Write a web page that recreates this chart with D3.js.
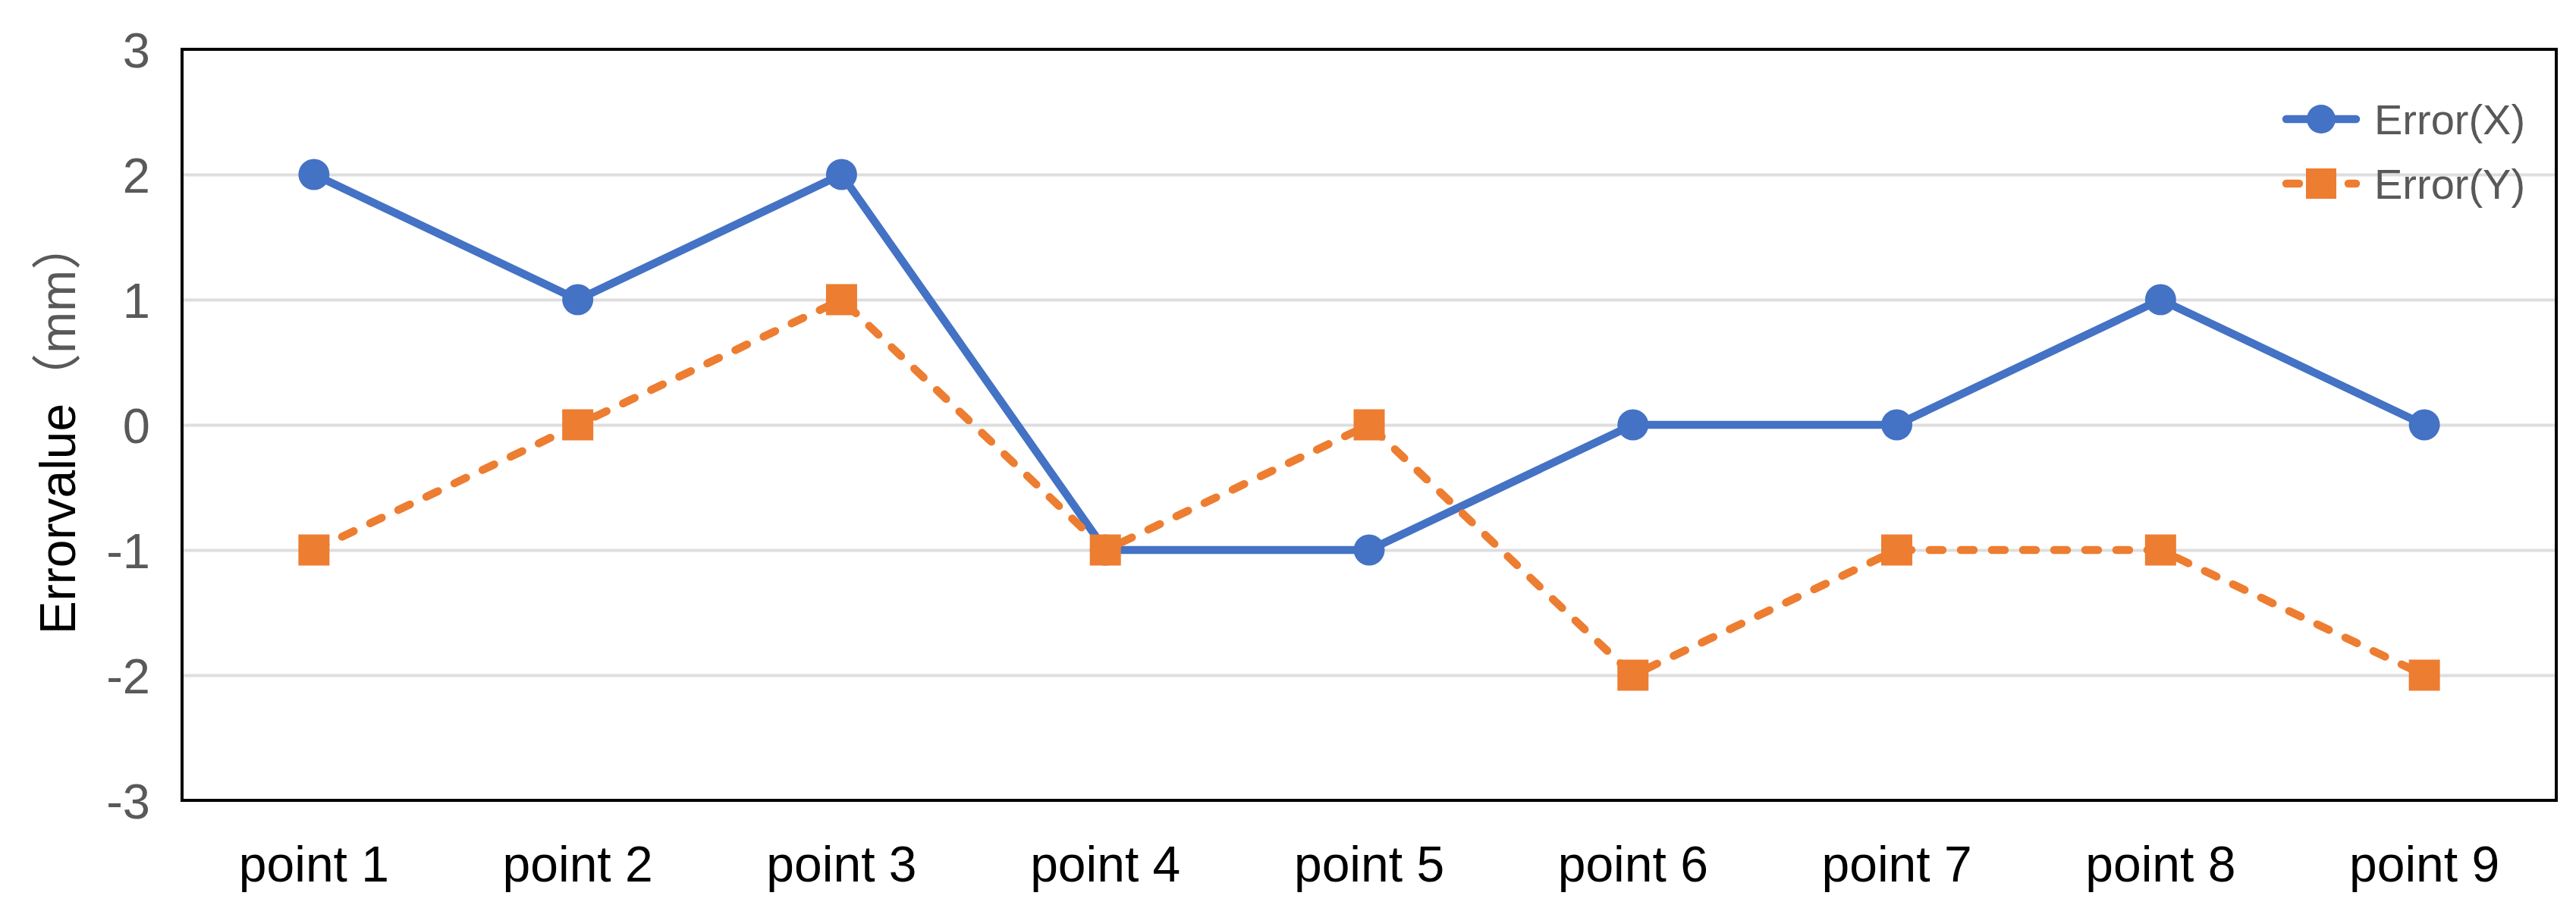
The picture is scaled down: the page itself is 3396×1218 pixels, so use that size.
<!DOCTYPE html>
<html>
<head>
<meta charset="utf-8">
<script src="https://cdn.jsdelivr.net/npm/d3@7"></script>
<style>
  html, body { margin: 0; padding: 0; background: #fff; }
  svg { display: block; }
</style>
</head>
<body>
<div id="chart"></div>
<script>
// Data
const categories = ['point 1', 'point 2', 'point 3', 'point 4', 'point 5', 'point 6', 'point 7', 'point 8', 'point 9'];
const errorX = [2, 1, 2, -1, -1, 0, 0, 1, 0];
const errorY = [-1, 0, 1, -1, 0, -2, -1, -1, -2];
const yTicks = [-3, -2, -1, 0, 1, 2, 3];
const seriesNames = ['Error(X)', 'Error(Y)'];

// Config
const W = 3396, H = 1218;
const plot = { left: 240, right: 3370, top: 65, bottom: 1055 };
const blue = '#4472C4';
const orange = '#ED7D31';
const grey = '#595959';
const font = 'Arial, "Liberation Sans", "Noto Sans CJK SC", sans-serif';
const lineW = 10.5;
const dash = '17 24';

const svg = d3.select('#chart')
    .append('svg')
    .attr('width', W)
    .attr('height', H)
    .attr('viewBox', `0 0 ${W} ${H}`);

svg.append('rect').attr('width', W).attr('height', H).attr('fill', '#fff');

const x = d3.scaleBand()
    .domain(categories)
    .range([plot.left, plot.right]);
const cx = d => x(d) + x.bandwidth() / 2;

const y = d3.scaleLinear()
    .domain([-3, 3])
    .range([plot.bottom, plot.top]);

// Gridlines
svg.append('g')
    .attr('transform', `translate(${plot.left},0)`)
    .call(d3.axisLeft(y).tickValues(yTicks.slice(1, -1)).tickSize(-(plot.right - plot.left)).tickFormat(''))
    .call(g => g.select('.domain').remove())
    .selectAll('line')
    .attr('stroke', '#dedede')
    .attr('stroke-width', 4);

// Y axis labels
svg.append('g')
    .attr('transform', `translate(${plot.left},0)`)
    .call(d3.axisLeft(y).tickValues(yTicks).tickSize(0).tickPadding(42).tickFormat(d => String(d)))
    .call(g => g.select('.domain').remove())
    .selectAll('text')
    .attr('dy', '0.36em')
    .style('font-family', font)
    .style('font-size', '65px')
    .attr('fill', grey);

// X axis labels
svg.append('g')
    .attr('transform', `translate(0,${plot.bottom})`)
    .call(d3.axisBottom(x).tickSize(0))
    .call(g => g.select('.domain').remove())
    .selectAll('text')
    .attr('y', 107)
    .attr('dy', 0)
    .style('font-family', font)
    .style('font-size', '66px')
    .attr('fill', '#000');

// Plot frame
svg.append('rect')
    .attr('x', plot.left)
    .attr('y', plot.top)
    .attr('width', plot.right - plot.left)
    .attr('height', plot.bottom - plot.top)
    .attr('fill', 'none')
    .attr('stroke', '#000')
    .attr('stroke-width', 4);

// Y axis title
const title = svg.append('text')
    .attr('transform', 'translate(99,563) rotate(-90)')
    .attr('text-anchor', 'middle')
    .style('font-family', font)
    .style('font-size', '66px');
title.append('tspan').attr('fill', '#000').text('Errorvalue');
title.append('tspan').attr('fill', grey).text('（mm）');

// Lines
const line = d3.line()
    .x((d, i) => cx(categories[i]))
    .y(d => y(d));

svg.append('path')
    .datum(errorX)
    .attr('d', line)
    .attr('fill', 'none')
    .attr('stroke', blue)
    .attr('stroke-width', lineW)
    .attr('stroke-linejoin', 'round');

svg.selectAll('.dotX')
    .data(errorX)
    .enter()
    .append('circle')
    .attr('class', 'dotX')
    .attr('cx', (d, i) => cx(categories[i]))
    .attr('cy', d => y(d))
    .attr('r', 20.5)
    .attr('fill', blue);

svg.append('path')
    .datum(errorY)
    .attr('d', line)
    .attr('fill', 'none')
    .attr('stroke', orange)
    .attr('stroke-width', lineW)
    .attr('stroke-dasharray', dash)
    .attr('stroke-linecap', 'round')
    .attr('stroke-linejoin', 'round');

const sq = 41;
svg.selectAll('.dotY')
    .data(errorY)
    .enter()
    .append('rect')
    .attr('class', 'dotY')
    .attr('x', (d, i) => cx(categories[i]) - sq / 2)
    .attr('y', d => y(d) - sq / 2)
    .attr('width', sq)
    .attr('height', sq)
    .attr('fill', orange);

// Legend
const legendRows = [
    { name: seriesNames[0], color: blue, y: 157, dash: null, shape: 'circle' },
    { name: seriesNames[1], color: orange, y: 242, dash: dash, shape: 'square' }
];
const legend = svg.append('g').attr('class', 'legend');
legendRows.forEach(r => {
    legend.append('line')
        .attr('x1', 3014).attr('x2', 3106)
        .attr('y1', r.y).attr('y2', r.y)
        .attr('stroke', r.color)
        .attr('stroke-width', lineW)
        .attr('stroke-linecap', 'round')
        .attr('stroke-dasharray', r.dash);
    if (r.shape === 'circle') {
        legend.append('circle').attr('cx', 3060).attr('cy', r.y).attr('r', 19).attr('fill', r.color);
    } else {
        legend.append('rect').attr('x', 3040).attr('y', r.y - 20).attr('width', 40).attr('height', 40).attr('fill', r.color);
    }
    legend.append('text')
        .attr('x', 3130)
        .attr('y', r.y + 20)
        .style('font-family', font)
        .style('font-size', '56px')
        .attr('fill', grey)
        .text(r.name);
});
</script>
</body>
</html>
